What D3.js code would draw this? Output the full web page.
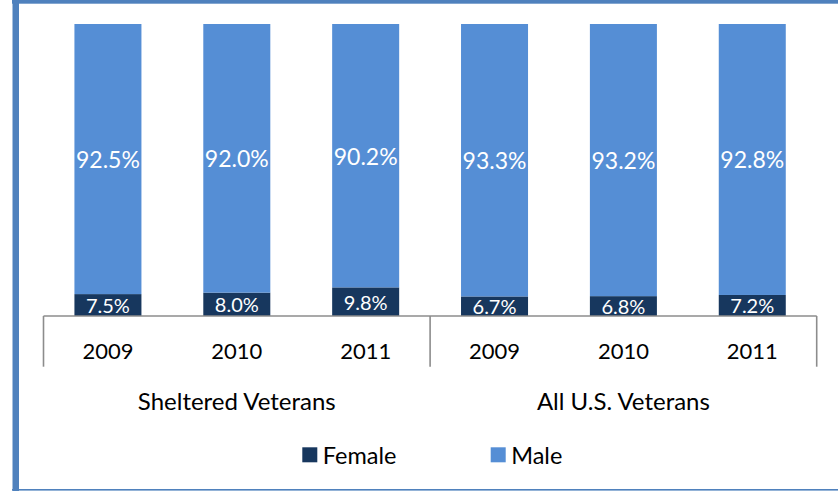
<!DOCTYPE html>
<html>
<head>
<meta charset="utf-8">
<script src="https://cdn.jsdelivr.net/npm/d3@7"></script>
<style>
  html, body { margin: 0; padding: 0; background: #fff; }
  svg { display: block; font-family: Lato, "Open Sans", sans-serif; }
</style>
</head>
<body>
<svg id="chart" width="838" height="491"></svg>
<script>
// Share of veterans by gender, per year and population
const groups = ["Sheltered Veterans", "All U.S. Veterans"];
const years = ["2009", "2010", "2011"];
const female = [7.5, 8.0, 9.8, 6.7, 6.8, 7.2];
const male = [92.5, 92.0, 90.2, 93.3, 93.2, 92.8];
const seriesNames = ["Female", "Male"];
const seriesColors = ["#17375e", "#558ed5"];

const rows = [];
groups.forEach((g, gi) => years.forEach((yr, yi) => {
  const i = gi * years.length + yi;
  rows.push({ key: i, group: g, year: yr, Female: female[i], Male: male[i] });
}));

const svg = d3.select("#chart");
const W = 838, H = 491;

// Frame (cropped outer border)
const frameColor = "#4f81bd";
svg.append("rect").attr("x", 12).attr("y", 0).attr("width", W - 12).attr("height", 3.7).attr("fill", frameColor);
svg.append("rect").attr("x", 12.5).attr("y", 0).attr("width", 6.5).attr("height", H).attr("fill", frameColor);
svg.append("rect").attr("x", 12).attr("y", 489).attr("width", W - 12).attr("height", 1.6).attr("fill", frameColor);

const plotLeft = 43.5, plotRight = 816.7, axisY = 316, plotTop = 24;

const x = d3.scaleBand()
  .domain(rows.map(d => d.key))
  .range([plotLeft, plotRight])
  .paddingInner(0.48)
  .paddingOuter(0.24);

const y = d3.scaleLinear().domain([0, 100]).range([axisY, plotTop]);

const stack = d3.stack().keys(seriesNames)(rows);

const layers = svg.append("g").selectAll("g")
  .data(stack)
  .join("g")
  .attr("fill", (d, i) => seriesColors[i]);

layers.selectAll("rect")
  .data(d => d)
  .join("rect")
  .attr("x", d => x(d.data.key))
  .attr("width", x.bandwidth())
  .attr("y", d => y(d[1]))
  .attr("height", d => y(d[0]) - y(d[1]));

// Value labels
stack.forEach((layer, li) => {
  svg.append("g").selectAll("text")
    .data(layer)
    .join("text")
    .attr("x", d => x(d.data.key) + x.bandwidth() / 2)
    .attr("y", d => (y(d[0]) + y(d[1])) / 2)
    .attr("text-anchor", "middle")
    .attr("dominant-baseline", "central")
    .attr("fill", "#ffffff")
    .attr("font-size", li === 0 ? 20 : 23)
    .text(d => d3.format(".1f")(d.data[layer.key]) + "%");
});

// Category axis: baseline plus group dividers
const axisColor = "#8c8c8c";
const axis = svg.append("g").attr("stroke", axisColor).attr("stroke-width", 1.6);
axis.append("line").attr("x1", plotLeft).attr("x2", plotRight).attr("y1", axisY).attr("y2", axisY);
const groupStep = (plotRight - plotLeft) / groups.length;
d3.range(groups.length + 1).forEach(i => {
  const gx = plotLeft + i * groupStep;
  axis.append("line").attr("x1", gx).attr("x2", gx).attr("y1", axisY).attr("y2", 366.7);
});

svg.append("g").selectAll("text")
  .data(rows)
  .join("text")
  .attr("x", d => x(d.key) + x.bandwidth() / 2)
  .attr("y", 350)
  .attr("text-anchor", "middle")
  .attr("dominant-baseline", "central")
  .attr("font-size", 22)
  .attr("fill", "#000")
  .text(d => d.year);

svg.append("g").selectAll("text")
  .data(groups)
  .join("text")
  .attr("x", (d, i) => plotLeft + (i + 0.5) * groupStep)
  .attr("y", 400)
  .attr("text-anchor", "middle")
  .attr("dominant-baseline", "central")
  .attr("font-size", 24)
  .attr("fill", "#000")
  .text(d => d);

// Legend
const legendX = [302.3, 490.7];
const legend = svg.append("g").selectAll("g")
  .data(seriesNames)
  .join("g")
  .attr("transform", (d, i) => `translate(${legendX[i]},447.3)`);
legend.append("rect").attr("width", 15).attr("height", 15)
  .attr("fill", (d, i) => seriesColors[i]);
legend.append("text").attr("x", 20.5).attr("y", 7.5)
  .attr("dominant-baseline", "central")
  .attr("font-size", 23.5)
  .attr("fill", "#000")
  .text(d => d);
</script>
</body>
</html>
